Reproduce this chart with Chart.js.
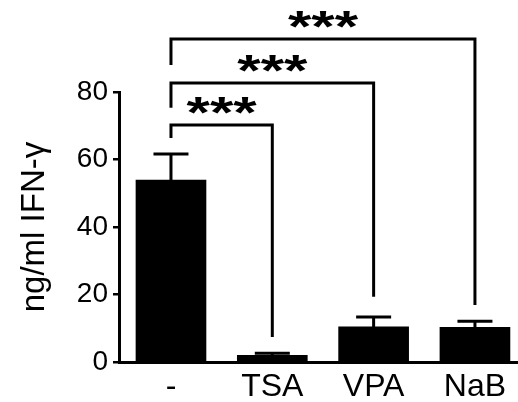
<!DOCTYPE html>
<html>
<head>
<meta charset="UTF-8">
<title>IFN-gamma</title>
<script src="https://cdn.jsdelivr.net/npm/chart.js"></script>
<style>
  body { margin: 0; background: #fff; }
  #wrap { width: 518px; height: 402px; }
</style>
</head>
<body>
<div id="wrap"><canvas id="chart" width="518" height="402"></canvas></div>
<script>
  const categories = ['-', 'TSA', 'VPA', 'NaB'];
  const means = [53.9, 2.0, 10.4, 10.3];
  const sems = [7.7, 0.6, 2.9, 1.8];
  const yTicks = [0, 20, 40, 60, 80];

  // significance brackets, heights in axis units
  const comparisons = [
    { from: 0, to: 1, label: '***' },
    { from: 0, to: 2, label: '***' },
    { from: 0, to: 3, label: '***' }
  ];
  const bracketTop = [70.2, 82.7, 95.7];
  const bracketLeftEnd = [66.4, 75.3, 88.0];
  const bracketRightEnd = [7.4, 19.3, 16.9];

  const FONT = '"Liberation Sans", Arial, sans-serif';
  Chart.defaults.font.family = FONT;
  Chart.defaults.color = '#000';

  const errorBars = {
    id: 'errorBars',
    afterDatasetsDraw(chart) {
      const meta = chart.getDatasetMeta(0);
      const y = chart.scales.y;
      const ctx = chart.ctx;
      ctx.save();
      ctx.strokeStyle = '#000';
      ctx.lineWidth = 3;
      meta.data.forEach((bar, i) => {
        const top = y.getPixelForValue(means[i] + sems[i]);
        ctx.beginPath();
        ctx.moveTo(bar.x, bar.y);
        ctx.lineTo(bar.x, top);
        ctx.moveTo(bar.x - bar.width / 4, top);
        ctx.lineTo(bar.x + bar.width / 4, top);
        ctx.stroke();
      });
      ctx.restore();
    }
  };

  const brackets = {
    id: 'brackets',
    afterDraw(chart) {
      const x = chart.scales.x, y = chart.scales.y;
      const ctx = chart.ctx;
      ctx.save();
      ctx.strokeStyle = '#000';
      ctx.fillStyle = '#000';
      ctx.lineWidth = 3;
      ctx.lineJoin = 'miter';
      comparisons.forEach((c, i) => {
        const x1 = x.getPixelForValue(c.from);
        const x2 = x.getPixelForValue(c.to);
        const yt = y.getPixelForValue(bracketTop[i]);
        ctx.beginPath();
        ctx.moveTo(x1, y.getPixelForValue(bracketLeftEnd[i]));
        ctx.lineTo(x1, yt);
        ctx.lineTo(x2, yt);
        ctx.lineTo(x2, y.getPixelForValue(bracketRightEnd[i]));
        ctx.stroke();
        // stars, slightly flattened
        ctx.save();
        ctx.translate((x1 + x2) / 2, yt - 16);
        ctx.scale(1, 0.75);
        ctx.font = 'bold 60px ' + FONT;
        ctx.textAlign = 'center';
        ctx.textBaseline = 'alphabetic';
        ctx.fillText(c.label, 0, 0.42 * 60);
        ctx.restore();
      });
      ctx.restore();
    }
  };

  new Chart(document.getElementById('chart'), {
    type: 'bar',
    data: {
      datasets: [{
        data: means.map((v, i) => ({ x: i, y: v })),
        backgroundColor: '#000',
        borderWidth: 0,
        barThickness: 70
      }]
    },
    options: {
      responsive: false,
      animation: false,
      layout: { padding: { top: 92, right: 1, left: 0, bottom: 0 } },
      plugins: { legend: { display: false }, tooltip: { enabled: false } },
      scales: {
        x: {
          type: 'linear',
          offset: false,
          bounds: 'data',
          min: -0.513,
          max: 3.415,
          afterBuildTicks: s => { s.ticks = categories.map((c, i) => ({ value: i })); },
          afterFit: s => { s.height = 40; },
          grid: { display: false, drawTicks: false },
          border: { display: true, color: '#000', width: 3 },
          ticks: {
            padding: 6,
            font: { size: 32 },
            callback: v => categories[v]
          }
        },
        y: {
          min: 0,
          max: 80,
          afterBuildTicks: s => { s.ticks = yTicks.map(v => ({ value: v })); },
          afterFit: s => { s.width = 119; },
          grid: { drawOnChartArea: false, drawTicks: true, tickLength: 6, color: '#000', lineWidth: 2.5 },
          border: { display: true, color: '#000', width: 3 },
          ticks: { padding: 5, font: { size: 28 } },
          title: {
            display: true,
            text: 'ng/ml IFN-γ',
            font: { size: 33 },
            padding: { top: 15, bottom: 0 }
          }
        }
      }
    },
    plugins: [errorBars, brackets]
  });
</script>
</body>
</html>
